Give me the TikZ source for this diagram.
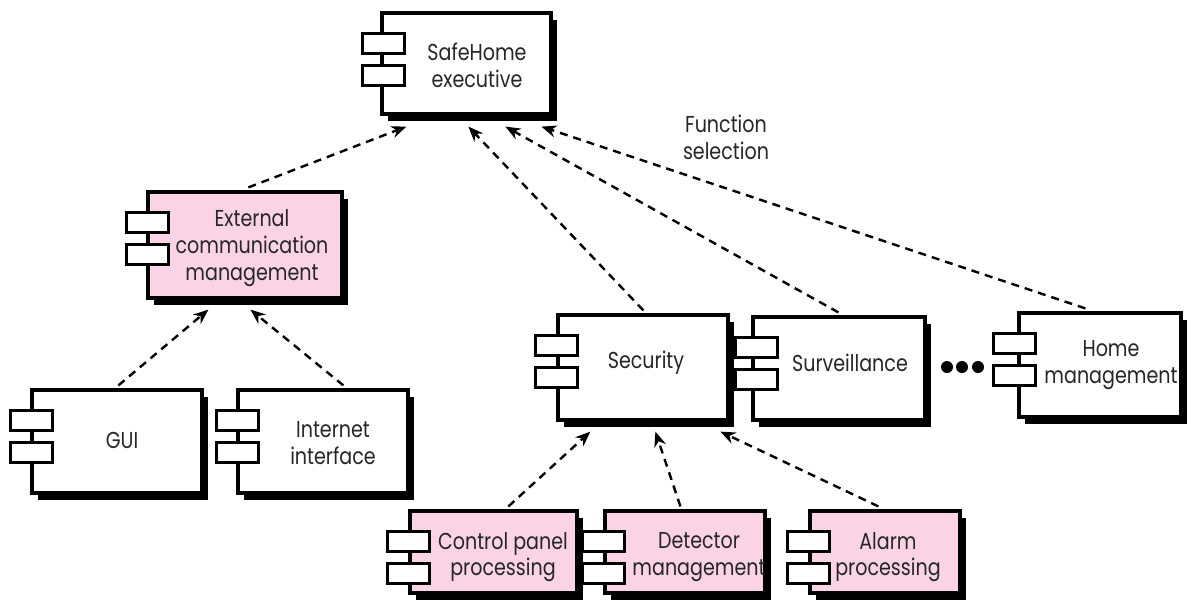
\documentclass[tikz,border=0pt]{standalone}
\usepackage{fontspec}
\setmainfont{Poppins}[FakeStretch=0.83]
\usetikzlibrary{shadows,calc,arrows.meta}
\definecolor{pinkfill}{RGB}{250,212,228}
\tikzset{
  comp/.style={draw=black, line width=1.6pt, rectangle, inner sep=0pt,
     drop shadow={shadow xshift=3.2pt, shadow yshift=-3.4pt, fill=black, opacity=1}},
  white comp/.style={comp, fill=white},
  pink comp/.style={comp, fill=pinkfill},
  port/.style={draw=black, fill=white, line width=1.5pt, rectangle, inner sep=0pt,
     minimum width=21pt, minimum height=10pt},
  lbl/.style={align=center, font=\fontsize{11.5}{13.4}\selectfont, text=black!85, inner sep=0pt},
  dep/.style={-{Stealth[length=7.5pt,width=6pt]}, dash pattern=on 4pt off 3pt, line width=1.2pt},
}
\newcommand\compbox[7]{%
  \node[#6, minimum width={(#4-#2)*0.5pt}, minimum height={(#5-#3)*0.5pt}]
     (#1) at ({(#2+#4)/2},{(#3+#5)/2}) {};
  \node[port] (#1p1) at ($(#1.north west)+(#7,32)$) {};
  \node[port] (#1p2) at ($(#1.north west)+(#7,64)$) {};
}
\begin{document}
\begin{tikzpicture}[x=0.5pt,y=-0.5pt]
\useasboundingbox (0,0) rectangle (1191,601);
% components
\compbox{exec}{382}{13}{551}{114}{white comp}{3}
\compbox{ext}{148}{192}{342}{298}{pink comp}{1}
\compbox{gui}{32}{390}{202}{493}{white comp}{1}
\compbox{inet}{238}{390}{408}{493}{white comp}{1}
\compbox{sec}{558}{315}{728}{420}{white comp}{0}
\compbox{surv}{753}{317}{925}{420}{white comp}{5}
\compbox{home}{1019}{313}{1181}{417}{white comp}{-3}
\compbox{ctrl}{410}{511}{577}{593}{pink comp}{0}
\compbox{det}{605}{511}{765}{593}{pink comp}{0}
\compbox{alarm}{810}{511}{960}{593}{pink comp}{0}
% labels
\node[lbl] (exect) at (477,65) {SafeHome\\executive};
\node[lbl] (extt) at (252,248) {External\\communication\\management};
\node[lbl] (guit) at (122,440) {GUI};
\node[lbl] (inett) at (333,443) {Internet\\interface};
\node[lbl] (sect) at (646,363) {Security};
\node[lbl] (survt) at (850,363) {Surveillance};
\node[lbl] (homet) at (1111,365) {Home\\management};
\node[lbl] (ctrlt) at (503,557) {Control panel\\processing};
\node[lbl] (dett) at (699,557) {Detector\\management};
\node[lbl] (alarmt) at (888,557) {Alarm\\processing};
\node[lbl] (fsel) at (726,137) {Function\\selection};
% dots
\fill (947,367) circle (6);
\fill (962,367) circle (6);
\fill (978,367) circle (6);
% connectors
\draw[dep] ($(ext.north west)+(102,-3)$) -- ($(exec.south west)+(26,11)$);
\draw[dep] ($(sec.north west)+(87,-3)$) -- ($(exec.south west)+(88,11)$);
\draw[dep] ($(surv.north west)+(87,-3)$) -- ($(exec.south west)+(125,11)$);
\draw[dep] ($(home.north west)+(68,-3)$) -- ($(exec.south west)+(161,11)$);
\draw[dep] ($(gui.north west)+(88,-3)$) -- ($(ext.south west)+(62,10)$);
\draw[dep] ($(inet.north west)+(107,-3)$) -- ($(ext.south west)+(104,10)$);
\draw[dep] ($(ctrl.north west)+(100,-3)$) -- ($(sec.south west)+(34,10)$);
\draw[dep] ($(det.north west)+(77,-3)$) -- ($(sec.south west)+(99,10)$);
\draw[dep] ($(alarm.north west)+(70,-3)$) -- ($(sec.south west)+(164,10)$);
\end{tikzpicture}
\end{document}
